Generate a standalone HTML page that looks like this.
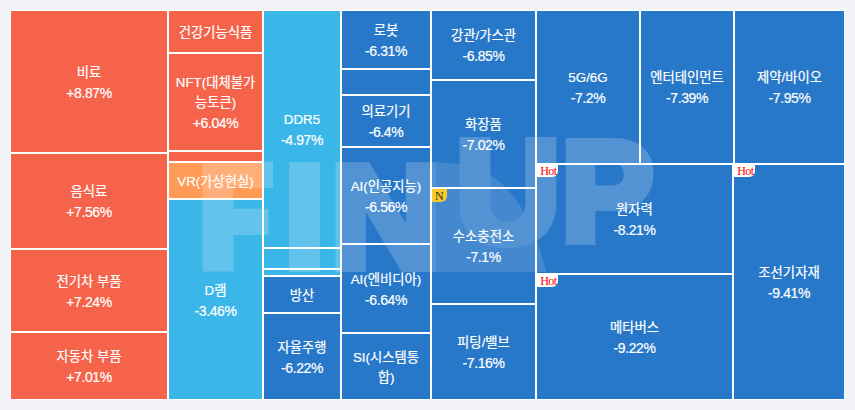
<!DOCTYPE html>
<html><head><meta charset="utf-8"><style>
html,body{margin:0;padding:0;}
body{width:855px;height:410px;background:#f2f4f8;position:relative;overflow:hidden;font-family:"Liberation Sans","Noto Sans CJK KR",sans-serif;}
.wrap{position:absolute;left:10px;top:10px;width:835px;height:390px;background:#fff;}
.b{position:absolute;}
.c{position:absolute;display:flex;flex-direction:column;align-items:center;justify-content:center;color:#fff;font-size:13.33px;line-height:20px;font-weight:400;text-align:center;overflow:hidden;padding-top:2px;box-sizing:border-box;-webkit-text-stroke:0.2px #fff;}
.l{white-space:nowrap;}
.p{font-size:14px;letter-spacing:-0.4px;}
.wm{position:absolute;left:0;top:0;width:855px;height:410px;opacity:.2;pointer-events:none;}
.w{position:absolute;font:700 144px/1 "Liberation Sans",sans-serif;color:#fff;-webkit-text-stroke:10px #fff;}
.blob{position:absolute;background:#fff;}
.hot,.new{position:absolute;width:21px;height:12px;background:#fff;color:#f00;font:12px/12px "Liberation Serif",serif;letter-spacing:-0.6px;text-indent:1.6px;text-align:center;border-bottom-right-radius:6px;}
.new{width:15px;height:13px;line-height:15px;letter-spacing:0;text-indent:-0.5px;background:#f8ca2c;color:#332;}
</style></head><body>
<div class="wrap"></div>
<div class="b" style="left:11px;top:11px;width:156px;height:141px;background:#f5634a"></div>
<div class="b" style="left:11px;top:154px;width:156px;height:94px;background:#f5634a"></div>
<div class="b" style="left:11px;top:250px;width:156px;height:81px;background:#f5634a"></div>
<div class="b" style="left:11px;top:333px;width:156px;height:66px;background:#f5634a"></div>
<div class="b" style="left:169px;top:11px;width:93px;height:41px;background:#f5634a"></div>
<div class="b" style="left:169px;top:54px;width:93px;height:96px;background:#f5634a"></div>
<div class="b" style="left:169px;top:152px;width:93px;height:9px;background:#f5634a"></div>
<div class="b" style="left:169px;top:163px;width:93px;height:35px;background:#ff9a57"></div>
<div class="b" style="left:169px;top:200px;width:93px;height:199px;background:#3bb6e8"></div>
<div class="b" style="left:264px;top:11px;width:76px;height:236px;background:#3bb6e8"></div>
<div class="b" style="left:264px;top:249px;width:76px;height:19px;background:#3bb6e8"></div>
<div class="b" style="left:264px;top:270px;width:76px;height:5px;background:#3bb6e8"></div>
<div class="b" style="left:264px;top:277px;width:76px;height:35px;background:#2878c9"></div>
<div class="b" style="left:264px;top:314px;width:76px;height:85px;background:#2878c9"></div>
<div class="b" style="left:342px;top:11px;width:88px;height:57px;background:#2878c9"></div>
<div class="b" style="left:342px;top:70px;width:88px;height:24px;background:#2878c9"></div>
<div class="b" style="left:342px;top:96px;width:88px;height:50px;background:#2878c9"></div>
<div class="b" style="left:342px;top:148px;width:88px;height:95px;background:#2878c9"></div>
<div class="b" style="left:342px;top:245px;width:88px;height:87px;background:#2878c9"></div>
<div class="b" style="left:342px;top:334px;width:88px;height:65px;background:#2878c9"></div>
<div class="b" style="left:432px;top:11px;width:103px;height:68px;background:#2878c9"></div>
<div class="b" style="left:432px;top:81px;width:103px;height:106px;background:#2878c9"></div>
<div class="b" style="left:432px;top:189px;width:103px;height:114px;background:#2878c9"></div>
<div class="b" style="left:432px;top:305px;width:103px;height:94px;background:#2878c9"></div>
<div class="b" style="left:537px;top:11px;width:102px;height:152px;background:#2878c9"></div>
<div class="b" style="left:641px;top:11px;width:92px;height:152px;background:#2878c9"></div>
<div class="b" style="left:735px;top:11px;width:109px;height:152px;background:#2878c9"></div>
<div class="b" style="left:537px;top:165px;width:195px;height:108px;background:#2878c9"></div>
<div class="b" style="left:537px;top:275px;width:195px;height:124px;background:#2878c9"></div>
<div class="b" style="left:734px;top:165px;width:110px;height:234px;background:#2878c9"></div>
<div class="wm">
<svg width="855" height="410" style="position:absolute;left:0;top:0"><path d="M432,161.5 L460,164.5 Q522,172 546,272 L432,272 Z" fill="#fff" fill-opacity=".65"/></svg>
<span class="w" style="left:198px;top:146px;clip-path:polygon(0 0,75px 0,75px 52px,70.5px 52px,70.5px 100%,0 100%)">F</span>
<span class="w" style="left:284.5px;top:146px">I</span>
<span class="w" style="left:331px;top:146px;transform:scaleX(1.06);transform-origin:5px 16px">N</span>
<span class="w" style="left:456px;top:121px">U</span>
<span class="w" style="left:561px;top:121px;transform:scale(.96,.985);transform-origin:5px 16px">P</span>
</div>
<div class="hot" style="left:537px;top:165px">Hot</div>
<div class="hot" style="left:537px;top:275px">Hot</div>
<div class="hot" style="left:734px;top:165px">Hot</div>
<div class="new" style="left:432px;top:189px">N</div>
<div class="c" style="left:11px;top:11px;width:156px;height:141px"><div class="l">비료</div><div class="l p">+8.87%</div></div>
<div class="c" style="left:11px;top:154px;width:156px;height:94px"><div class="l">음식료</div><div class="l p">+7.56%</div></div>
<div class="c" style="left:11px;top:250px;width:156px;height:81px"><div class="l">전기차 부품</div><div class="l p">+7.24%</div></div>
<div class="c" style="left:11px;top:333px;width:156px;height:66px"><div class="l">자동차 부품</div><div class="l p">+7.01%</div></div>
<div class="c" style="left:169px;top:11px;width:93px;height:41px"><div class="l">건강기능식품</div></div>
<div class="c" style="left:169px;top:54px;width:93px;height:96px"><div class="l">NFT(대체불가<br>능토큰)</div><div class="l p">+6.04%</div></div>
<div class="c" style="left:169px;top:163px;width:93px;height:35px"><div class="l">VR(가상현실)</div></div>
<div class="c" style="left:169px;top:200px;width:93px;height:199px"><div class="l">D램</div><div class="l p">-3.46%</div></div>
<div class="c" style="left:264px;top:11px;width:76px;height:236px"><div class="l">DDR5</div><div class="l p">-4.97%</div></div>
<div class="c" style="left:264px;top:277px;width:76px;height:35px"><div class="l">방산</div></div>
<div class="c" style="left:264px;top:314px;width:76px;height:85px"><div class="l">자율주행</div><div class="l p">-6.22%</div></div>
<div class="c" style="left:342px;top:11px;width:88px;height:57px"><div class="l">로봇</div><div class="l p">-6.31%</div></div>
<div class="c" style="left:342px;top:96px;width:88px;height:50px"><div class="l">의료기기</div><div class="l p">-6.4%</div></div>
<div class="c" style="left:342px;top:148px;width:88px;height:95px"><div class="l">AI(인공지능)</div><div class="l p">-6.56%</div></div>
<div class="c" style="left:342px;top:245px;width:88px;height:87px"><div class="l">AI(엔비디아)</div><div class="l p">-6.64%</div></div>
<div class="c" style="left:342px;top:334px;width:88px;height:65px"><div class="l">SI(시스템통<br>합)</div></div>
<div class="c" style="left:432px;top:11px;width:103px;height:68px"><div class="l">강관/가스관</div><div class="l p">-6.85%</div></div>
<div class="c" style="left:432px;top:81px;width:103px;height:106px"><div class="l">화장품</div><div class="l p">-7.02%</div></div>
<div class="c" style="left:432px;top:189px;width:103px;height:114px"><div class="l">수소충전소</div><div class="l p">-7.1%</div></div>
<div class="c" style="left:432px;top:305px;width:103px;height:94px"><div class="l">피팅/밸브</div><div class="l p">-7.16%</div></div>
<div class="c" style="left:537px;top:11px;width:102px;height:152px"><div class="l">5G/6G</div><div class="l p">-7.2%</div></div>
<div class="c" style="left:641px;top:11px;width:92px;height:152px"><div class="l">엔터테인먼트</div><div class="l p">-7.39%</div></div>
<div class="c" style="left:735px;top:11px;width:109px;height:152px"><div class="l">제약/바이오</div><div class="l p">-7.95%</div></div>
<div class="c" style="left:537px;top:165px;width:195px;height:108px"><div class="l">원자력</div><div class="l p">-8.21%</div></div>
<div class="c" style="left:537px;top:275px;width:195px;height:124px"><div class="l">메타버스</div><div class="l p">-9.22%</div></div>
<div class="c" style="left:734px;top:165px;width:110px;height:234px"><div class="l">조선기자재</div><div class="l p">-9.41%</div></div>
</body></html>
